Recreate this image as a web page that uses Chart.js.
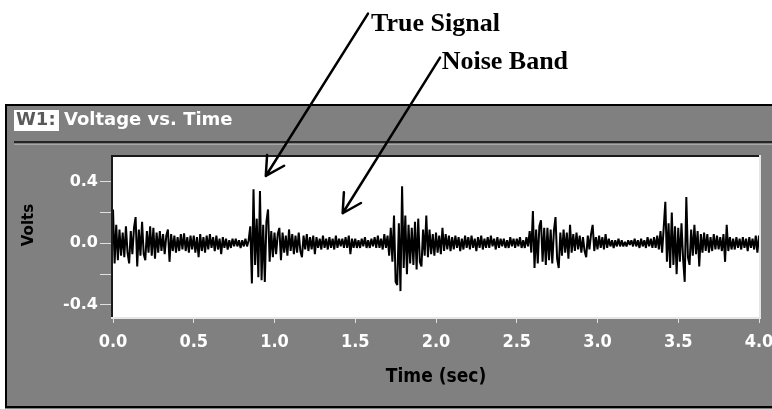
<!DOCTYPE html>
<html>
<head>
<meta charset="utf-8">
<script src="https://cdn.jsdelivr.net/npm/chart.js@4/dist/chart.umd.min.js"></script>
<style>
html,body{margin:0;padding:0;background:#fff;}
#wrap{position:relative;width:772px;height:409px;overflow:hidden;}
canvas{display:block;}
</style>
</head>
<body>
<div id="wrap"><canvas id="c" width="772" height="409"></canvas></div>
<script>
// ---- data (volts), one sample every SAMPLE_INTERVAL seconds ----
const SAMPLE_INTERVAL = 0.01;
const volts_0_0to0_5 = [
 0.22,-0.13,0.12,-0.11,0.09,-0.08,0.07,-0.09,0.11,-0.06,
 -0.13,0.08,-0.07,0.10,0.17,-0.15,0.09,-0.08,0.14,-0.07,
 -0.11,0.08,-0.06,0.11,-0.08,0.10,-0.10,0.07,-0.06,0.08,
 -0.05,0.06,-0.07,0.05,0.09,-0.12,0.06,-0.05,0.05,-0.06,
 0.04,-0.05,0.06,-0.04,0.065,-0.05,0.04,-0.06,0.05,-0.04];
const volts_0_5to1_0 = [
 0.05,-0.06,0.04,-0.09,0.06,-0.05,0.04,-0.06,0.05,-0.04,
 0.06,-0.03,0.04,-0.05,0.05,-0.04,0.03,-0.07,0.04,-0.03,
 0.03,-0.04,0.02,-0.03,0.03,-0.02,0.03,-0.02,0.02,-0.03,
 0.02,-0.02,0.03,-0.02,0.02,0.11,-0.26,0.35,-0.14,0.16,
 -0.22,0.34,-0.24,0.12,-0.25,0.14,0.22,-0.12,0.08,-0.09];
const volts_1_0to1_5 = [
 0.07,-0.07,0.06,0.10,-0.11,0.07,-0.06,0.05,-0.08,0.09,
 -0.05,0.06,-0.07,0.05,-0.06,0.07,-0.05,-0.09,0.05,-0.04,
 0.06,-0.05,0.04,-0.04,0.05,-0.07,0.04,-0.03,0.03,-0.04,
 0.05,-0.03,0.03,-0.04,0.04,-0.03,0.03,-0.04,0.05,-0.03,
 0.03,-0.02,0.03,-0.03,0.04,-0.03,0.05,-0.07,0.03,-0.03];
const volts_1_5to2_0 = [
 0.03,-0.03,0.02,-0.03,0.03,-0.02,0.04,-0.03,0.02,-0.03,
 0.03,-0.02,0.04,-0.03,0.05,-0.03,0.03,-0.04,0.06,-0.03,
 0.05,-0.08,0.10,-0.12,0.18,-0.25,-0.27,0.13,-0.31,0.37,
 -0.16,0.18,-0.20,0.12,-0.13,0.10,-0.14,0.14,-0.17,0.16,
 -0.12,-0.15,0.09,-0.08,0.18,-0.09,0.09,-0.07,0.06,-0.08];
const volts_2_0to2_5 = [
 0.07,-0.06,0.05,-0.07,0.10,-0.05,0.06,-0.04,0.05,-0.05,
 0.04,-0.04,0.05,-0.03,0.04,-0.05,0.03,-0.04,0.05,-0.03,
 0.04,-0.04,0.05,-0.03,0.03,-0.05,0.04,-0.03,0.05,-0.04,
 0.03,-0.03,0.04,-0.03,0.05,-0.02,0.03,-0.04,0.04,-0.03,
 0.03,-0.02,0.03,-0.03,0.02,-0.03,0.04,-0.02,0.03,-0.03];
const volts_2_5to3_0 = [
 0.03,-0.02,0.04,-0.03,0.02,-0.03,0.04,-0.02,0.08,-0.06,
 0.21,-0.16,0.09,-0.13,0.11,0.15,-0.12,0.10,-0.14,0.10,
 -0.11,0.09,-0.13,0.08,0.17,-0.10,-0.16,0.07,-0.08,0.09,
 -0.06,0.07,-0.10,0.12,-0.06,0.06,-0.05,0.07,-0.04,0.05,
 -0.06,0.04,-0.05,-0.09,0.05,-0.04,0.06,0.12,-0.05,0.04];
const volts_3_0to3_5 = [
 -0.04,0.05,-0.03,0.04,-0.04,0.06,-0.03,0.03,-0.02,0.02,
 -0.03,0.02,-0.02,0.03,-0.02,0.02,-0.02,0.01,-0.02,0.02,
 -0.01,0.02,-0.02,0.03,-0.02,0.02,-0.03,0.03,-0.02,0.02,
 -0.03,0.04,-0.02,0.03,-0.03,0.04,-0.03,0.05,-0.04,0.08,
 -0.06,0.10,0.27,-0.12,0.13,-0.16,0.20,-0.14,0.11,-0.20];
const volts_3_5to4_0 = [
 0.10,-0.12,0.13,-0.10,-0.25,0.30,-0.09,-0.14,0.09,-0.08,
 0.12,-0.07,0.08,-0.15,0.06,-0.06,0.07,-0.05,0.06,-0.06,
 0.04,-0.05,0.06,-0.04,0.05,-0.04,0.04,-0.05,0.06,-0.12,
 0.12,-0.05,0.04,-0.04,0.03,-0.04,0.04,-0.03,0.03,-0.04,
 0.04,-0.03,0.03,-0.05,0.04,-0.03,0.03,-0.04,0.05,-0.06,
 0.05];

const xTickValues = [0,0.5,1.0,1.5,2.0,2.5,3.0,3.5,4.0];
const yTickValues = [-0.4,-0.2,0,0.2,0.4];
const yTickLabels = ['-0.4','','0.0','','0.4'];

const windowTag = 'W1:';
const windowTitle = 'Voltage vs. Time';
const xAxisTitle = 'Time (sec)';
const yAxisTitle = 'Volts';

// annotations, in data units (time s, volts)
const annotationText  = ['True Signal','Noise Band'];
const arrowTipTime    = [0.946, 1.422];
const arrowTipVolts   = [0.437, 0.195];
const arrowTailTime   = [1.579, 2.025];
const arrowTailVolts  = [1.490, 1.205];
const labelTime       = [1.598, 2.035];
const labelVolts      = [1.375, 1.128];

// ---- build points ----
const allVolts = [].concat(volts_0_0to0_5, volts_0_5to1_0, volts_1_0to1_5, volts_1_5to2_0,
  volts_2_0to2_5, volts_2_5to3_0, volts_3_0to3_5, volts_3_5to4_0);
const points = allVolts.map((v, i) => ({x: +(i * SAMPLE_INTERVAL).toFixed(2), y: v}));

const GRAY = '#808080';
const SANS = '"DejaVu Sans Condensed","DejaVu Sans",sans-serif';
const SANS_W = '"DejaVu Sans",sans-serif';

const framePlugin = {
  id: 'frame',
  beforeDraw(chart) {
    const ctx = chart.ctx, a = chart.chartArea;
    const W = chart.width, H = chart.height;
    ctx.save();
    ctx.fillStyle = '#fff';
    ctx.fillRect(0, 0, W, H);
    // window body
    ctx.fillStyle = GRAY;
    ctx.fillRect(5, 104, W, H - 104);
    ctx.fillStyle = '#000';
    ctx.fillRect(5, 104, W, 2);
    ctx.fillRect(5, 104, 2, 304);
    ctx.fillRect(5, 406, W, 2);
    // title bar separator
    ctx.fillStyle = '#262626';
    ctx.fillRect(14, 141, W, 2);
    ctx.fillStyle = '#a8a8a8';
    ctx.fillRect(14, 144, W, 1);
    // W1 tag
    ctx.fillStyle = '#fff';
    ctx.fillRect(14, 110, 45, 21);
    ctx.font = 'bold 18px ' + SANS_W;
    ctx.textBaseline = 'alphabetic';
    ctx.fillStyle = '#5a5a5a';
    ctx.fillText(windowTag, 16, 125);
    ctx.fillStyle = '#fff';
    ctx.fillText(windowTitle, 64, 125);
    // plot area
    ctx.fillStyle = '#fff';
    ctx.fillRect(a.left, a.top, a.right - a.left, a.bottom - a.top);
    ctx.restore();
  },
  afterDraw(chart) {
    const ctx = chart.ctx, a = chart.chartArea;
    const xs = chart.scales.x, ys = chart.scales.y;
    ctx.save();
    // sunken border of plot
    ctx.fillStyle = '#1a1a1a';
    ctx.fillRect(a.left - 2, a.top - 2, a.right - a.left + 2, 2);
    ctx.fillRect(a.left - 2, a.top - 2, 2, a.bottom - a.top + 2);
    ctx.fillStyle = '#e6e6e6';
    ctx.fillRect(a.right, a.top - 2, 2, a.bottom - a.top + 4);
    ctx.fillRect(a.left - 2, a.bottom, a.right - a.left + 4, 2);
    // axis titles
    ctx.fillStyle = '#000';
    ctx.font = 'bold 19px ' + SANS;
    ctx.textAlign = 'center';
    ctx.textBaseline = 'alphabetic';
    ctx.fillText(xAxisTitle, 436, 382);
    ctx.save();
    ctx.translate(33, 225);
    ctx.rotate(-Math.PI / 2);
    ctx.font = 'bold 15px ' + SANS_W;
    ctx.fillText(yAxisTitle, 0, 0);
    ctx.restore();
    // annotations
    ctx.textAlign = 'left';
    ctx.font = 'bold 26px "Liberation Serif","Times New Roman",serif';
    ctx.strokeStyle = '#000';
    ctx.lineWidth = 2.5;
    ctx.lineCap = 'round';
    ctx.lineJoin = 'round';
    for (let i = 0; i < annotationText.length; i++) {
      const tx = xs.getPixelForValue(arrowTipTime[i]), ty = ys.getPixelForValue(arrowTipVolts[i]);
      const sx = xs.getPixelForValue(arrowTailTime[i]), sy = ys.getPixelForValue(arrowTailVolts[i]);
      ctx.beginPath();
      ctx.moveTo(sx, sy);
      ctx.lineTo(tx, ty);
      const ang = Math.atan2(sy - ty, sx - tx);
      const L = 21, spread = 0.5;
      ctx.moveTo(tx + L * Math.cos(ang + spread), ty + L * Math.sin(ang + spread));
      ctx.lineTo(tx, ty);
      ctx.lineTo(tx + L * Math.cos(ang - spread), ty + L * Math.sin(ang - spread));
      ctx.stroke();
      ctx.fillText(annotationText[i], xs.getPixelForValue(labelTime[i]), ys.getPixelForValue(labelVolts[i]));
    }
    ctx.restore();
  }
};

new Chart(document.getElementById('c'), {
  type: 'line',
  data: {
    datasets: [{
      data: points,
      borderColor: '#000',
      borderWidth: 2,
      borderJoinStyle: 'bevel',
      pointRadius: 0,
      tension: 0,
      fill: false
    }]
  },
  options: {
    responsive: false,
    animation: false,
    devicePixelRatio: 1,
    layout: { padding: { left: 0, right: 13, top: 157, bottom: 0 }, autoPadding: false },
    plugins: { legend: { display: false }, title: { display: false }, tooltip: { enabled: false } },
    scales: {
      x: {
        type: 'linear', min: 0, max: 4,
        afterBuildTicks: s => { s.ticks = xTickValues.map(v => ({ value: v })); },
        afterFit: s => { s.height = 92; s.paddingLeft = 0; s.paddingRight = 0; },
        ticks: {
          color: '#fff', autoSkip: false, maxRotation: 0, padding: 9,
          font: { family: SANS, size: 18, weight: 'bold' },
          callback: v => Number(v).toFixed(1)
        },
        grid: { drawOnChartArea: false, drawTicks: true, tickLength: 6, tickColor: '#e0e0e0', tickWidth: 1 },
        border: { display: false }
      },
      y: {
        type: 'linear', min: -0.478, max: 0.56,
        afterBuildTicks: s => { s.ticks = yTickValues.map(v => ({ value: v })); },
        afterFit: s => { s.width = 113; s.paddingTop = 0; s.paddingBottom = 0; },
        ticks: {
          color: '#fff', autoSkip: false, padding: 2,
          font: { family: SANS_W, size: 16, weight: 'bold' },
          callback: (v, i) => yTickLabels[i]
        },
        grid: { drawOnChartArea: false, drawTicks: true, tickLength: 13, tickColor: '#e0e0e0', tickWidth: 1 },
        border: { display: false }
      }
    }
  },
  plugins: [framePlugin]
});
</script>
</body>
</html>
